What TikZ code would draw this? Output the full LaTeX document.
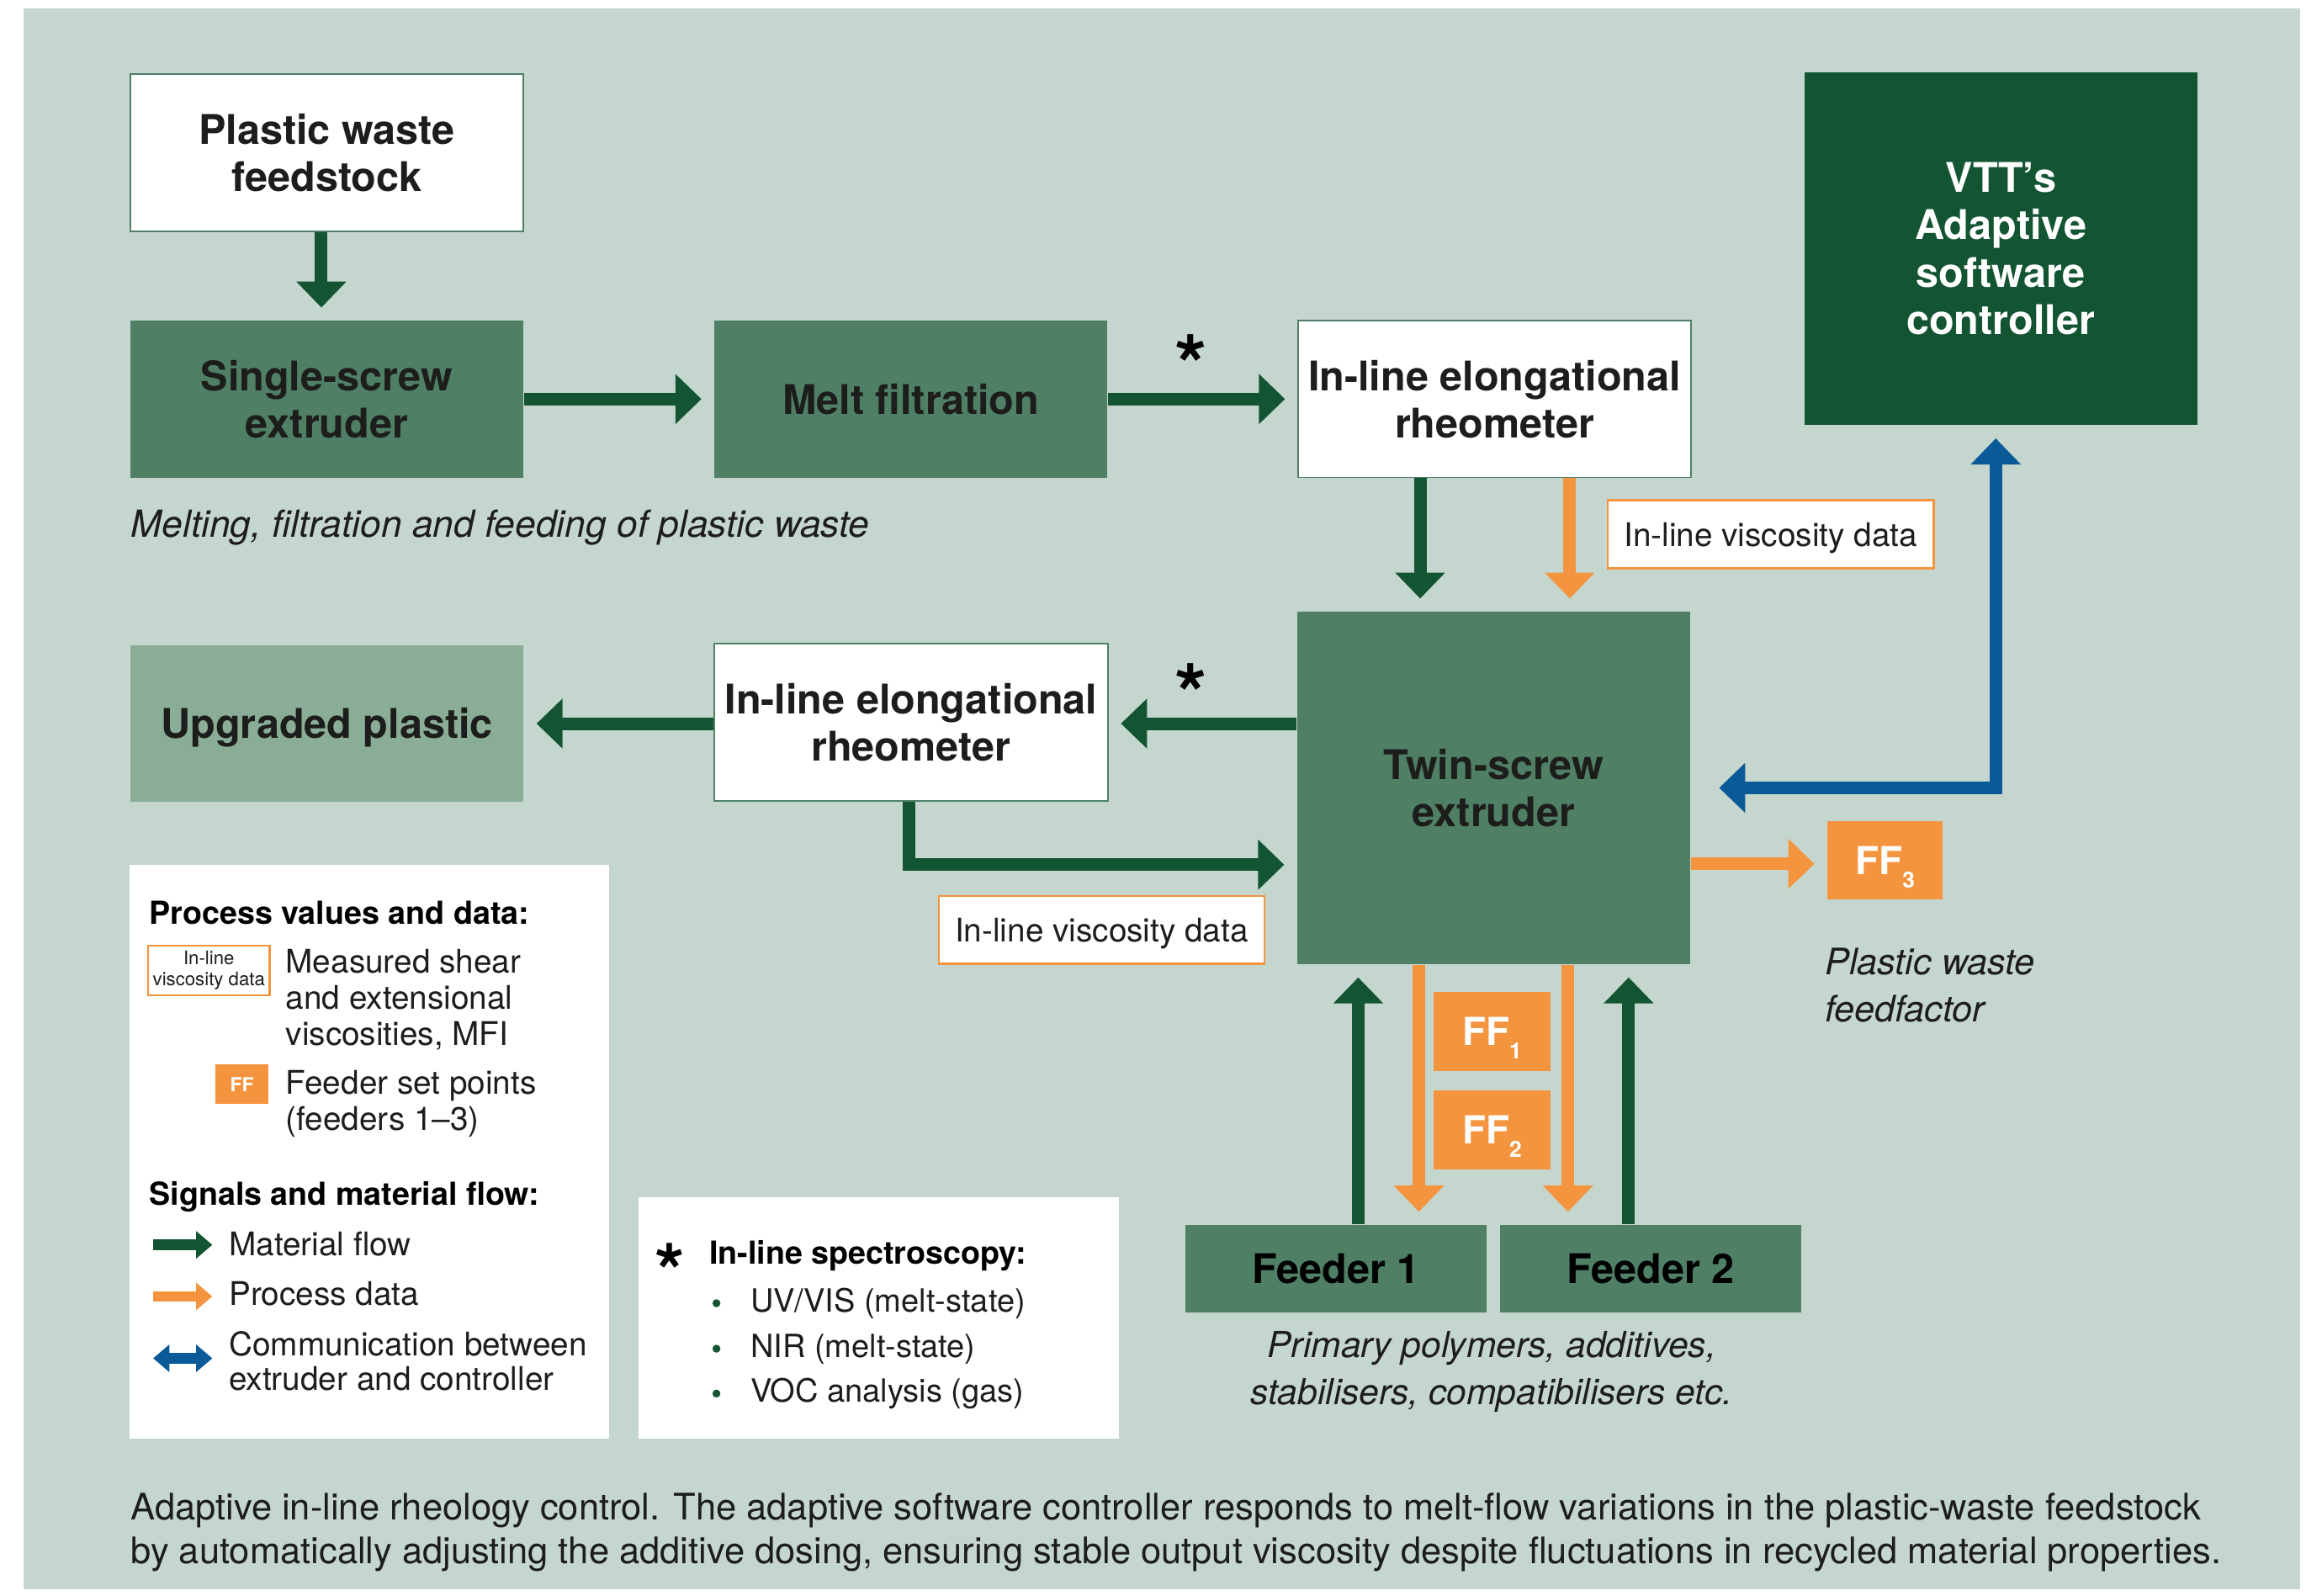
\documentclass[tikz,border=0pt]{standalone}
\usepackage{fontspec}
\setmainfont{TeX Gyre Heros}
\usetikzlibrary{arrows.meta,fit,calc}
\definecolor{bg}{HTML}{C5D6CE}
\definecolor{midgreen}{HTML}{4F8066}
\definecolor{dkgreen}{HTML}{135533}
\definecolor{ltgreen}{HTML}{8AAD97}
\definecolor{orng}{HTML}{F5943F}
\definecolor{blu}{HTML}{0B5A98}
\definecolor{txt}{HTML}{1D1D1B}
\tikzset{
  mybox/.style={inner sep=0pt},
  whitebox/.style={mybox, fill=white, draw=midgreen, line width=0.55pt},
  greenbox/.style={mybox, fill=midgreen},
  darkbox/.style={mybox, fill=dkgreen},
  lightbox/.style={mybox, fill=ltgreen},
  viscbox/.style={mybox, fill=white, draw=orng, line width=0.7pt},
  ffbox/.style={mybox, fill=orng},
  panelbox/.style={mybox, fill=white},
  boxtxt/.style={inner sep=0pt, align=center, text depth=0pt, font=\fontsize{13.8}{16}\selectfont\bfseries, text=txt},
  whitetxt/.style={boxtxt, text=white},
  fftxt/.style={boxtxt, text=white, font=\fontsize{13}{15}\selectfont\bfseries},
  visctxt/.style={inner sep=0pt, text depth=0pt, font=\fontsize{11}{13}\selectfont, text=txt},
  mytip/.tip={Triangle[length=8.8pt,width=16.4pt]},
  smalltip/.tip={Triangle[length=5.5pt,width=9pt]},
  arrstyle/.style={line width=4.25pt, line join=miter, -{mytip}, shorten >=4.2pt},
  flow/.style={arrstyle, draw=dkgreen},
  pdata/.style={arrstyle, draw=orng},
  comm/.style={arrstyle, draw=blu, {mytip}-{mytip}},
  legarr/.style={line width=3.6pt, -{smalltip}},
  captxt/.style={anchor=base west, inner sep=0pt, font=\fontsize{12.1}{16}\selectfont\itshape, text=txt},
  lgt/.style={anchor=base west, inner sep=0pt, font=\fontsize{11}{13}\selectfont, text=txt},
  lgh/.style={anchor=base west, inner sep=0pt, font=\fontsize{10.7}{13}\selectfont\bfseries, text=black},
  astk/.style={anchor=base, inner sep=0pt, font=\fontsize{28}{28}\selectfont\bfseries, text=black},
  bottomcap/.style={anchor=base west, inner sep=0pt, font=\fontsize{12.35}{15}\selectfont, text=txt},
}
\newcommand{\subff}[1]{\raisebox{-4.6pt}[0pt][0pt]{\fontsize{7.5}{8}\selectfont #1}}
\begin{document}
\begin{tikzpicture}[x=0.5pt,y=-0.5pt]
\fill[white] (0,0) rectangle (1568,1077.7);
\useasboundingbox (0,0) rectangle (1568,1077.7);
\fill[bg] (15.7,5.6) rectangle (1553.3,1073);

% main boxes
\node[whitebox, fit={(88,50)(353.5,156)}] (pw) {};
\node[boxtxt] (pwt) at (pw.center) {Plastic waste\\feedstock};
\node[greenbox, fit={(88,216.5)(353.5,322.4)}] (sse) {};
\node[boxtxt] (sset) at (sse.center) {Single-screw\\extruder};
\node[greenbox, fit={(482.5,216.5)(747.7,322.4)}] (melt) {};
\node[boxtxt] (meltt) at (melt.center) {Melt filtration};
\node[whitebox, fit={(876.7,216.5)(1141.8,322.4)}] (rh1) {};
\node[boxtxt] (rh1t) at (rh1.center) {In-line elongational\\rheometer};
\node[darkbox, fit={(1218.6,48.7)(1483.7,286.9)}] (vtt) {};
\node[whitetxt] (vttt) at (vtt.center) {VTT’s\\Adaptive\\software\\controller};
\node[greenbox, fit={(876,413)(1141.3,651.2)}] (tse) {};
\node[boxtxt] (tset) at (tse.center) {Twin-screw\\extruder};
\node[lightbox, fit={(88,435.5)(353.5,541.5)}] (up) {};
\node[boxtxt] (upt) at (up.center) {Upgraded plastic};
\node[whitebox, fit={(482.5,434.5)(748,541)}] (rh2) {};
\node[boxtxt] (rh2t) at (rh2.center) {In-line elongational\\rheometer};
\node[viscbox, fit={(1085.6,337.7)(1305.8,383.8)}] (v1) {};
\node[visctxt] (v1t) at (v1.center) {In-line viscosity data};
\node[viscbox, fit={(634,605)(853.8,650.8)}] (v2) {};
\node[visctxt] (v2t) at (v2.center) {In-line viscosity data};
\node[ffbox, fit={(1234,554.7)(1312,607.3)}] (ff3) {};
\node[fftxt] (ff3t) at (ff3.center) {FF\subff{3}};
\node[ffbox, fit={(968,669.8)(1047,723.1)}] (ff1) {};
\node[fftxt] (ff1t) at (ff1.center) {FF\subff{1}};
\node[ffbox, fit={(968,736.3)(1047,789.5)}] (ff2) {};
\node[fftxt] (ff2t) at (ff2.center) {FF\subff{2}};
\node[greenbox, fit={(800.5,827)(1003.8,886)}] (f1) {};
\node[boxtxt, text=black] (f1t) at (f1.center) {Feeder 1};
\node[greenbox, fit={(1012.8,827)(1216.4,886)}] (f2) {};
\node[boxtxt, text=black] (f2t) at (f2.center) {Feeder 2};

% captions
\node[captxt, font=\fontsize{12.6}{16}\selectfont\itshape] (c1) at (88,362.6) {Melting, filtration and feeding of plastic waste};
\node[captxt, font=\fontsize{12.3}{16}\selectfont\itshape] (c2a) at (1232,658) {Plastic waste};
\node[captxt, font=\fontsize{12.3}{16}\selectfont\itshape] (c2b) at (1232,690) {feedfactor};
\node[captxt, anchor=base] (c3a) at (1007.4,916.8) {Primary polymers, additives,};
\node[captxt, anchor=base] (c3b) at (1007.4,948.5) {stabilisers, compatibilisers etc.};
\node[astk] (s1) at (804,266.7) {*};
\node[astk] (s2) at (804,489) {*};

% connector coordinates
\coordinate (xa) at (217,0);
\coordinate (xg1) at (959,0);
\coordinate (xo1) at (1060,0);
\coordinate (yl) at (0,488.6);
\coordinate (xr) at (614,0);
\coordinate (yr) at (0,583.9);
\coordinate (yb) at (0,532);
\coordinate (xb) at (1347.7,0);
\coordinate (yo) at (0,583.3);
\coordinate (xu1) at (917.2,0);
\coordinate (xu2) at (1099.8,0);
\coordinate (xd1) at (958.1,0);
\coordinate (xd2) at (1058.8,0);

% connectors
\draw[flow] (pw.south -| xa) -- (sse.north -| xa);
\draw[flow] (sse.east) -- (melt.west);
\draw[flow] (melt.east) -- (rh1.west);
\draw[flow] (rh1.south -| xg1) -- (tse.north -| xg1);
\draw[pdata] (rh1.south -| xo1) -- (tse.north -| xo1);
\draw[flow] (tse.west |- yl) -- (rh2.east |- yl);
\draw[flow] (rh2.west |- yl) -- (up.east |- yl);
\draw[flow] (rh2.south -| xr) |- (tse.west |- yr);
\draw[comm, shorten <=9.6pt, shorten >=4.35pt] (tse.east |- yb) -| (vtt.south -| xb);
\draw[pdata] (tse.east |- yo) -- (ff3.west |- yo);
\draw[flow] (f1.north -| xu1) -- (tse.south -| xu1);
\draw[flow] (f2.north -| xu2) -- (tse.south -| xu2);
\draw[pdata] (tse.south -| xd1) -- (f1.north -| xd1);
\draw[pdata] (tse.south -| xd2) -- (f2.north -| xd2);

% legend panel
\node[panelbox, fit={(87.4,584.1)(411.2,971.5)}] (leg) {};
\node[lgh] (lh1) at (100.4,623.8) {Process values and data:};
\node[viscbox, fit={(100,638.5)(182.1,672)}] (lv) {};
\node[inner sep=0pt, align=center, font=\fontsize{6.3}{6.9}\selectfont, text=txt] (lvt) at (lv.center) {In-line\\viscosity data};
\node[lgt] (lt1) at (192.6,657.2) {Measured shear};
\node[lgt] (lt2) at (192.6,681.5) {and extensional};
\node[lgt] (lt3) at (192.6,705.8) {viscosities, MFI};
\node[ffbox, fit={(145.6,718.7)(181.3,745.5)}] (lff) {};
\node[inner sep=0pt, font=\fontsize{6.5}{7}\selectfont\bfseries, text=white] (lfft) at (lff.center) {FF};
\node[lgt] (lt4) at (192.6,738.7) {Feeder set points};
\node[lgt] (lt5) at (192.6,763.2) {(feeders 1–3)};
\node[lgh] (lh2) at (100.4,814) {Signals and material flow:};
\coordinate (la1) at (103.4,840.6);
\coordinate (lb1) at (143.4,840.6);
\coordinate (la2) at (103.4,875.4);
\coordinate (lb2) at (143.4,875.4);
\coordinate (la3) at (103.4,917.2);
\coordinate (lb3) at (143.4,917.2);
\draw[legarr, draw=dkgreen] (la1) -- (lb1);
\draw[legarr, draw=orng] (la2) -- (lb2);
\draw[legarr, draw=blu, {smalltip}-{smalltip}] (la3) -- (lb3);
\node[lgt] (lt6) at (154.3,848) {Material flow};
\node[lgt] (lt7) at (154.3,881.3) {Process data};
\node[lgt] (lt8) at (154.3,915.3) {Communication between};
\node[lgt] (lt9) at (154.3,939) {extruder and controller};

% spectroscopy panel
\node[panelbox, fit={(431.2,808.3)(755.4,971.5)}] (spec) {};
\node[astk, font=\fontsize{26}{26}\selectfont\bfseries] (s3) at (452.5,877.6) {*};
\node[lgh] (sh) at (478.6,853.3) {In-line spectroscopy:};
\fill[dkgreen] (483.8,880) circle (2.7) (483.8,910.7) circle (2.7) (483.8,941) circle (2.7);
\node[lgt, font=\fontsize{10.8}{13}\selectfont] (si1) at (506.4,886) {UV/VIS (melt-state)};
\node[lgt, font=\fontsize{10.8}{13}\selectfont] (si2) at (506.4,916.7) {NIR (melt-state)};
\node[lgt, font=\fontsize{10.8}{13}\selectfont] (si3) at (506.4,947) {VOC analysis (gas)};

% bottom caption
\node[bottomcap] (b1) at (88,1026.5) {Adaptive in-line rheology control. The adaptive software controller responds to melt-flow variations in the plastic-waste feedstock};
\node[bottomcap] (b2) at (88,1056) {by automatically adjusting the additive dosing, ensuring stable output viscosity despite fluctuations in recycled material properties.};
\end{tikzpicture}
\end{document}
